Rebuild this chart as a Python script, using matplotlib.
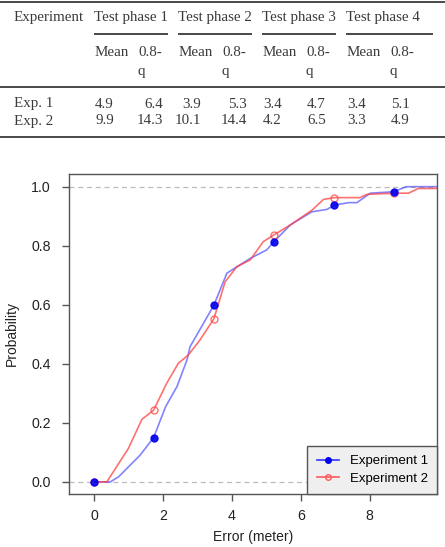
import numpy as np
import matplotlib.pyplot as plt
from matplotlib.lines import Line2D

# ---- table data ----
phases = ['Test phase 1', 'Test phase 2', 'Test phase 3', 'Test phase 4']
row_labels = ['Exp. 1', 'Exp. 2']
means = [[4.9, 3.9, 3.4, 3.4],
         [9.9, 10.1, 4.2, 3.3]]
q80 = [[6.4, 5.3, 4.7, 5.1],
       [14.3, 14.4, 6.5, 4.9]]

# ---- ECDF curves ----
exp1_x = [0, 0.46, 0.70, 1.33, 1.72, 2.07, 2.40, 2.69, 2.78, 3.47, 3.85, 4.53,
          5.01, 5.22, 5.69, 6.32, 6.76, 6.98, 7.40, 7.63, 8.02, 8.71, 9.06, 9.96]
exp1_y = [0, 0, 0.017, 0.091, 0.15, 0.255, 0.323, 0.413, 0.458, 0.598, 0.707, 0.757,
          0.786, 0.814, 0.870, 0.915, 0.923, 0.938, 0.946, 0.946, 0.978, 0.983, 1.0, 1.0]
exp2_x = [0, 0.36, 0.99, 1.38, 1.72, 2.10, 2.44, 2.73, 3.07, 3.47, 3.80, 4.14,
          4.53, 4.91, 5.22, 5.69, 6.32, 6.66, 6.98, 7.72, 7.92, 8.71, 9.13, 9.42, 9.96]
exp2_y = [0, 0, 0.114, 0.212, 0.243, 0.334, 0.402, 0.430, 0.481, 0.552, 0.678, 0.729,
          0.752, 0.814, 0.837, 0.870, 0.920, 0.957, 0.963, 0.963, 0.974, 0.978, 0.978, 0.994, 0.994]

mark_x = [0, 1.74, 3.48, 5.22, 6.96, 8.70]
mark1_y = [0, 0.15, 0.598, 0.814, 0.938, 0.983]
mark2_y = [0, 0.243, 0.552, 0.837, 0.963, 0.978]

W, H = 445, 547
fig = plt.figure(figsize=(W / 100, H / 100), dpi=100)

# ---- table, drawn in pixel coordinates ----
tab = fig.add_axes([0, 1 - 160 / H, 1, 160 / H])
tab.set_xlim(0, W)
tab.set_ylim(160, 0)
tab.axis('off')
tcol = '#3a3a3a'
tfont = dict(family='Liberation Serif', fontsize=10.8, color=tcol, va='center')

for y in [2, 87, 137]:
    tab.plot([0, W], [y, y], color=tcol, lw=1.3, solid_capstyle='butt')

phase_x = [94, 178, 262, 346]
phase_end = [168, 252, 336, 433]
tab.text(14, 18, 'Experiment', ha='left', **tfont)
for i, p in enumerate(phases):
    tab.text(phase_x[i], 18, p, ha='left', **tfont)
    tab.plot([phase_x[i], phase_end[i]], [34, 34], color=tcol, lw=1.3, solid_capstyle='butt')
    tab.text(phase_x[i] + 1, 53, 'Mean', ha='left', **tfont)
    tab.text(phase_x[i] + 44, 53, '0.8-', ha='left', **tfont)
    tab.text(phase_x[i] + 44, 71, 'q', ha='left', **tfont)

row_y = [104, 121]
for r, lab in enumerate(row_labels):
    tab.text(14, row_y[r], lab, ha='left', **tfont)
    for i in range(4):
        if i == 0:
            tab.text(phase_x[i] + 1, row_y[r], f'{means[r][i]:.1f}', ha='left', **tfont)
            tab.text(163, row_y[r], f'{q80[r][i]:.1f}', ha='right', **tfont)
        elif i == 1:
            tab.text(201, row_y[r], f'{means[r][i]:.1f}', ha='right', **tfont)
            tab.text(247, row_y[r], f'{q80[r][i]:.1f}', ha='right', **tfont)
        else:
            tab.text(phase_x[i] + 1, row_y[r], f'{means[r][i]:.1f}', ha='left', **tfont)
            tab.text(phase_x[i] + 45, row_y[r], f'{q80[r][i]:.1f}', ha='left', **tfont)

# ---- ECDF chart ----
ax = fig.add_axes([69 / W, 53 / H, (437 - 69) / W, (494 - 174) / H])
ax.axhline(0, color='#bbbbbb', lw=0.9, ls=(0, (4, 3)), zorder=0)
ax.axhline(1, color='#bbbbbb', lw=0.9, ls=(0, (4, 3)), zorder=0)

blue_line = (0.25, 0.25, 1.0, 0.65)
red_line = (1.0, 0.25, 0.25, 0.75)
ax.plot(exp1_x, exp1_y, color=blue_line, lw=1.2)
ax.plot(exp2_x, exp2_y, color=red_line, lw=1.2)
ax.plot(mark_x, mark2_y, ls='none', marker='o', ms=5, mfc='none',
        mec=(1.0, 0.3, 0.3, 0.8), mew=1.0)
ax.plot(mark_x, mark1_y, ls='none', marker='o', ms=5, color='#0000ee', alpha=0.9)

ax.set_xlim(-0.74, 9.96)
ax.set_ylim(-0.041, 1.043)
ax.set_xticks([0, 2, 4, 6, 8])
ax.set_yticks([0, 0.2, 0.4, 0.6, 0.8, 1.0])
ax.set_yticklabels(['0.0', '0.2', '0.4', '0.6', '0.8', '1.0'])
for s in ax.spines.values():
    s.set_color('#555555')
    s.set_linewidth(1.0)
ax.tick_params(colors='#555555', labelcolor='#222222', length=5, width=1.0,
               labelsize=10.2, labelfontfamily='Liberation Sans')
ax.tick_params(axis='y', pad=8)
ax.tick_params(axis='x', pad=6)
ax.set_xlabel('Error (meter)', family='Liberation Sans', fontsize=10,
              color='#222222', labelpad=5)
ax.set_ylabel('Probability', family='Liberation Sans', fontsize=10,
              color='#222222', labelpad=9)

handles = [Line2D([], [], color='#3333ff', lw=1.2, marker='o', ms=4,
                  mfc='#0000ee', mec='#0000ee'),
           Line2D([], [], color=(1.0, 0.35, 0.35), lw=1.2, marker='o', ms=4,
                  mfc='none', mec=(1.0, 0.35, 0.35))]
leg = ax.legend(handles, ['Experiment 1', 'Experiment 2'], loc='lower right',
                prop={'family': 'Liberation Sans', 'size': 9.5},
                fancybox=False, framealpha=1, borderaxespad=0,
                handlelength=1.7, handletextpad=0.8, labelspacing=0.4,
                borderpad=0.7)
leg.get_frame().set_facecolor('#efefef')
leg.get_frame().set_edgecolor('#555555')

fig.savefig('out.png', dpi=100)
